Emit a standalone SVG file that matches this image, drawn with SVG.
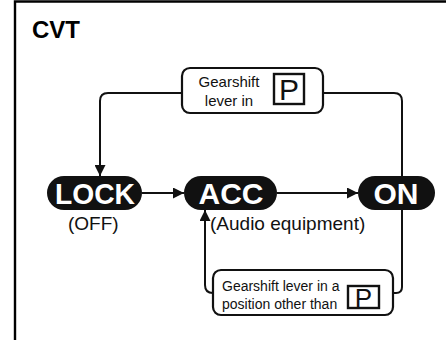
<svg xmlns="http://www.w3.org/2000/svg" width="446" height="340" viewBox="0 0 446 340">
  <defs>
    <style>
      .frame { fill: none; stroke: #000; stroke-width: 2.4; }
      .conn { fill: none; stroke: #111; stroke-width: 2; }
      .box { fill: #fff; stroke: #111; stroke-width: 2.2; }
      .pbox { fill: #fff; stroke: #111; stroke-width: 2.4; }
      .pill { fill: #111; }
      .pilltxt { font-family: "Liberation Sans", Arial, sans-serif; font-weight: bold; font-size: 30px; fill: #fff; text-anchor: middle; }
      .lbl { font-family: "Liberation Sans", Arial, sans-serif; font-size: 19px; fill: #111; }
      .small { font-family: "Liberation Sans", Arial, sans-serif; font-size: 14px; fill: #111; }
      .ptxt { font-family: "Liberation Sans", Arial, sans-serif; font-size: 30px; fill: #111; text-anchor: middle; }
      .title { font-family: "Liberation Sans", Arial, sans-serif; font-weight: bold; font-size: 24px; fill: #000; }
    </style>
    <marker id="arrow" viewBox="0 0 10 10" refX="10" refY="5" markerWidth="11" markerHeight="11" markerUnits="userSpaceOnUse" orient="auto">
      <path d="M0,0 L10,5 L0,10 Z" fill="#111"/>
    </marker>
  </defs>

  <path class="frame" d="M15,341 V1.5 H446"/>
  <text class="title" x="32" y="38">CVT</text>

  <g id="connectors">
    <path class="conn" d="M182,93 H108 Q100,93 100,101 V176" marker-end="url(#arrow)"/>
    <path class="conn" d="M323,93 H394 Q402,93 402,101 V180"/>
    <path class="conn" d="M142,193 H184" marker-end="url(#arrow)"/>
    <path class="conn" d="M277,193 H358" marker-end="url(#arrow)"/>
    <path class="conn" d="M213,293 Q205,293 205,285 V210" marker-end="url(#arrow)"/>
    <path class="conn" d="M393,293 H396 Q402,293 402,287 V205"/>
  </g>

  <g id="node-top-label">
    <rect class="box" x="182" y="68" width="141" height="45" rx="8"/>
    <text class="small" x="229" y="87" text-anchor="middle" style="font-size:15px">Gearshift</text>
    <text class="small" x="229" y="106" text-anchor="middle" style="font-size:15px">lever in</text>
    <rect class="pbox" x="274" y="74" width="30" height="30"/>
    <text class="ptxt" x="289" y="100">P</text>
  </g>

  <g id="node-lock">
    <rect class="pill" x="47" y="176" width="95" height="34" rx="17"/>
    <text class="pilltxt" x="95" y="204" textLength="80" lengthAdjust="spacingAndGlyphs">LOCK</text>
    <text class="lbl" x="68" y="230">(OFF)</text>
  </g>

  <g id="node-acc">
    <rect class="pill" x="184" y="176" width="93" height="34" rx="17"/>
    <text class="pilltxt" x="231" y="204">ACC</text>
    <text class="lbl" x="210" y="230">(Audio equipment)</text>
  </g>

  <g id="node-on">
    <rect class="pill" x="358" y="176" width="77" height="34" rx="17"/>
    <text class="pilltxt" x="396" y="204">ON</text>
  </g>

  <g id="node-bottom-label">
    <rect class="box" x="213" y="270" width="180" height="45" rx="8"/>
    <text class="small" x="222" y="291">Gearshift lever in a</text>
    <text class="small" x="222" y="309">position other than</text>
    <rect class="pbox" x="348" y="286" width="31" height="22"/>
    <text class="ptxt" x="363.5" y="306.5" style="font-size:26px">P</text>
  </g>
</svg>
